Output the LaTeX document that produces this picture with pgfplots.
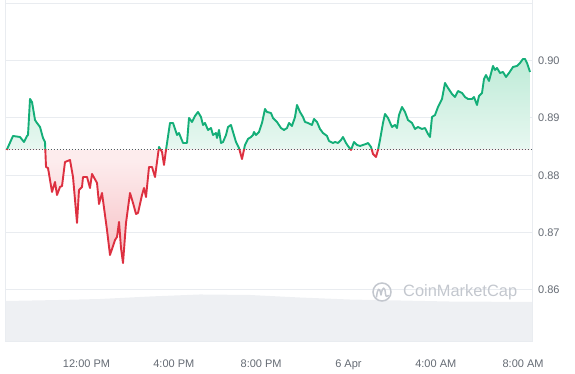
\documentclass[border=0pt]{standalone}
\usepackage{pgfplots}
\pgfplotsset{compat=1.18}
\usepackage{pgfplotstable}
\usepackage{fontspec}
\setmainfont{Liberation Sans}
\definecolor{cmcgreen}{HTML}{14AE78}
\definecolor{cmcred}{HTML}{DD3040}
\definecolor{gridc}{HTML}{E9ECF0}
\definecolor{volc}{HTML}{EEF0F3}
\definecolor{labc}{HTML}{646A73}
\definecolor{dotc}{HTML}{555A60}
\definecolor{gtop}{HTML}{BEEBD7}
\definecolor{gbot}{HTML}{EDF9F4}
\definecolor{rtop}{HTML}{FDECED}
\definecolor{rbot}{HTML}{F6BEC3}
\definecolor{wmc}{HTML}{C3C7CE}

\pgfplotstableread{
h v
8.344 0.88442
8.633 0.88686
8.954 0.88668
9.137 0.88581
9.274 0.88686
9.320 0.88703
9.412 0.89332
9.503 0.89279
9.641 0.88965
9.732 0.88913
9.870 0.88843
10.007 0.88651
10.099 0.88581
10.145 0.88145
10.236 0.88127
10.420 0.87709
10.557 0.87883
10.649 0.87656
10.786 0.87796
10.878 0.87813
11.015 0.88232
11.244 0.88267
11.382 0.87970
11.565 0.87168
11.656 0.87743
11.794 0.87796
11.840 0.87970
12.023 0.87970
12.160 0.87778
12.252 0.88023
12.481 0.87866
12.573 0.87499
12.710 0.87691
12.939 0.87045
13.076 0.86609
13.306 0.86871
13.397 0.86923
13.489 0.87185
13.580 0.86731
13.672 0.86469
13.809 0.87168
13.993 0.87691
14.130 0.87517
14.268 0.87325
14.359 0.87342
14.542 0.87656
14.634 0.87778
14.726 0.87621
14.863 0.88145
15.000 0.88145
15.138 0.87970
15.321 0.88494
15.459 0.88407
15.550 0.88180
15.642 0.88442
15.825 0.88913
15.962 0.88913
16.146 0.88703
16.237 0.88738
16.421 0.88564
16.604 0.88564
16.695 0.89000
16.833 0.88930
16.970 0.89035
17.108 0.89105
17.245 0.89017
17.337 0.88878
17.428 0.88913
17.566 0.88791
17.703 0.88825
17.795 0.88703
17.932 0.88738
17.978 0.88651
18.069 0.88791
18.161 0.88564
18.253 0.88581
18.390 0.88703
18.482 0.88843
18.619 0.88878
18.711 0.88756
18.848 0.88581
18.986 0.88476
19.123 0.88284
19.260 0.88529
19.398 0.88634
19.535 0.88668
19.627 0.88703
19.673 0.88756
19.764 0.88703
19.902 0.88756
20.039 0.88913
20.177 0.89157
20.268 0.89105
20.452 0.89087
20.543 0.89000
20.726 0.88930
20.910 0.88825
21.047 0.88791
21.184 0.88825
21.276 0.88913
21.413 0.88860
21.551 0.89017
21.642 0.89227
21.780 0.89105
21.917 0.89017
22.009 0.88930
22.146 0.88913
22.329 0.88878
22.421 0.88983
22.559 0.88930
22.696 0.88808
22.833 0.88738
23.017 0.88686
23.108 0.88599
23.292 0.88564
23.383 0.88581
23.521 0.88564
23.658 0.88616
23.750 0.88668
23.887 0.88564
23.979 0.88511
24.116 0.88442
24.254 0.88581
24.391 0.88529
24.529 0.88511
24.666 0.88529
24.803 0.88546
24.895 0.88564
25.033 0.88494
25.124 0.88372
25.262 0.88319
25.353 0.88442
25.445 0.88616
25.582 0.88913
25.674 0.89070
25.811 0.89000
25.994 0.88843
26.132 0.88878
26.223 0.88825
26.315 0.89052
26.452 0.89192
26.590 0.89105
26.727 0.88965
26.910 0.88913
27.048 0.88808
27.185 0.88843
27.368 0.88808
27.506 0.88825
27.644 0.88721
27.735 0.88668
27.827 0.89017
27.964 0.89052
28.102 0.89192
28.285 0.89332
28.422 0.89611
28.560 0.89524
28.743 0.89419
28.880 0.89366
29.018 0.89471
29.201 0.89436
29.339 0.89366
29.476 0.89332
29.659 0.89332
29.751 0.89366
29.888 0.89227
29.980 0.89384
30.117 0.89436
30.209 0.89681
30.301 0.89750
30.438 0.89646
30.621 0.89908
30.713 0.89838
30.804 0.89873
30.942 0.89785
31.079 0.89803
31.217 0.89716
31.354 0.89785
31.537 0.89890
31.721 0.89908
31.858 0.89960
31.996 0.90030
32.087 0.90030
32.179 0.89960
32.316 0.89803
}\pricedata

\pgfplotstableread{
h v
8.289 0.85108
8.289 0.85806
10.79 0.85824
12.62 0.85841
14.91 0.85885
17.20 0.85920
19.49 0.85911
21.78 0.85867
24.07 0.85832
26.36 0.85815
28.65 0.85797
32.408 0.85789
32.408 0.85108
}\voldata

\begin{document}
\begin{tikzpicture}
\useasboundingbox (0bp,0bp) rectangle (575bp,374bp);
\begin{axis}[
  at={(5.5bp,33bp)}, anchor=south west,
  scale only axis, width=526.5bp, height=341bp,
  xmin=8.289, xmax=32.408, ymin=0.85108, ymax=0.91059,
  axis line style={draw=gridc, line width=1bp},
  ymajorgrids, grid style={draw=gridc, line width=1bp},
  xtick={12,16,20,24,28,32},
  xticklabels={12:00 PM,4:00 PM,8:00 PM,6 Apr,4:00 AM,8:00 AM},
  ytick={0.86,0.87,0.88,0.89,0.90,0.91},
  yticklabels={0.86,0.87,0.88,0.89,0.90,{}},
  yticklabel pos=right,
  major tick length=0pt,
  tick label style={font=\fontsize{11bp}{13bp}\selectfont, text=labc},
  xticklabel style={anchor=base, inner sep=0pt, yshift=-26bp},
  yticklabel style={anchor=west, inner sep=0pt, xshift=6bp},
]
\addplot[draw=none, fill=volc] table {\voldata};
\begin{scope}
\clip (axis cs:8,0.88442) rectangle (axis cs:33,0.92);
\addplot[draw=none, top color=gtop, bottom color=gbot, middle color=gbot]
  table {\pricedata} -- (axis cs:32.316,0.88442) -- (axis cs:8.344,0.88442) -- cycle;
\end{scope}
\begin{scope}
\clip (axis cs:8,0.80) rectangle (axis cs:33,0.88442);
\addplot[draw=none, top color=rtop, bottom color=rbot, middle color=rtop]
  table {\pricedata} -- (axis cs:32.316,0.88442) -- (axis cs:8.344,0.88442) -- cycle;
\end{scope}
\addplot[dotc, line width=1bp, dash pattern=on 1bp off 2bp] coordinates {(8.289,0.88442) (32.408,0.88442)};
\begin{scope}
\clip (axis cs:8,0.88442) rectangle (axis cs:33,0.92);
\addplot[cmcgreen, line width=1.9bp, line join=round] table {\pricedata};
\end{scope}
\begin{scope}
\clip (axis cs:8,0.80) rectangle (axis cs:33,0.88442);
\addplot[cmcred, line width=1.9bp, line join=round] table {\pricedata};
\end{scope}
\end{axis}
% CoinMarketCap watermark
\draw[wmc, line width=1.5bp] (382bp,82bp) circle (9bp);
\draw[wmc, line width=1.5bp, line join=round, line cap=round]
  (376.5bp,77bp) .. controls (377.5bp,86bp) and (379.5bp,88bp) .. (381bp,79bp)
  .. controls (382.5bp,88bp) and (385bp,88bp) .. (385.5bp,80bp)
  .. controls (386bp,77bp) and (387bp,77bp) .. (388.5bp,78.5bp);
\node[anchor=west, inner sep=0pt, text=wmc, font=\fontsize{16.4bp}{18bp}\selectfont] at (403bp,82bp) {CoinMarketCap};
\end{tikzpicture}
\end{document}
